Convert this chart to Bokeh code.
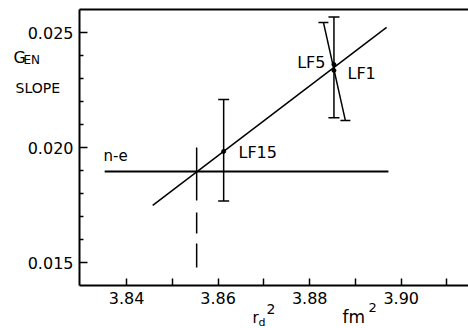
from bokeh.plotting import figure
from bokeh.models import Range1d, FixedTicker, PrintfTickFormatter, Label, LinearAxis
from bokeh.embed import file_html
from bokeh.resources import INLINE

# ---- data ----
fit_x = [3.8457, 3.8968]
fit_y = [0.01748, 0.02522]
ne_x = [3.8352, 3.8972]
ne_y = [0.01896, 0.01896]
cross_x = [3.8553, 3.8553]
cross_y = [0.0200, 0.01478]
pt_names = ["LF15", "LF1", "LF5"]
pt_x = [3.8612, 3.8853, 3.8853]
pt_y = [0.01983, 0.02335, 0.02361]
vbar_x = [3.8612, 3.8853]
vbar_lo = [0.01767, 0.02129]
vbar_hi = [0.02209, 0.02567]
slant_x = [3.8830, 3.8878]
slant_y = [0.02544, 0.02117]
xticks_major = [3.84, 3.86, 3.88, 3.90]
xticks_minor = [3.85, 3.87, 3.89, 3.91]
yticks_major = [0.015, 0.020, 0.025]
yticks_minor = [0.016, 0.017, 0.018, 0.019, 0.021, 0.022, 0.023, 0.024]

# axis box extents
X0, X1 = 3.8297, 3.9147
Y0, Y1 = 0.014, 0.026
FONT = "DejaVu Sans"

W, H = 468, 328
LEFT_PX, TOP_PX = 79, 9          # where the axis box corners sit on the canvas
SX = 389.0 / (X1 - X0)           # px per x unit
SY = 276.0 / (Y1 - Y0)           # px per y unit

def dx(px):
    return X0 + (px - LEFT_PX) / SX

def dy(py):
    return Y1 - (py - TOP_PX) / SY

p = figure(width=W, height=H, output_backend="svg", toolbar_location=None,
           x_range=Range1d(dx(0), dx(W)), y_range=Range1d(dy(H), dy(0)),
           min_border_left=0, min_border_right=0, min_border_top=0, min_border_bottom=0,
           x_axis_location=None, y_axis_location=None)
p.outline_line_color = None
p.grid.visible = False
p.background_fill_color = "white"
p.border_fill_color = "white"

def style_axis(ax):
    ax.axis_line_width = 2
    ax.axis_line_color = "black"
    ax.major_tick_out = 0
    ax.minor_tick_out = 0
    ax.major_tick_line_width = 1.5
    ax.minor_tick_line_width = 1.5
    ax.major_tick_line_color = "black"
    ax.minor_tick_line_color = "black"
    ax.major_label_text_font = FONT
    ax.major_label_text_font_size = "16px"
    ax.major_label_text_color = "black"
    ax.major_label_standoff = 6

xax = LinearAxis(ticker=FixedTicker(ticks=xticks_major, minor_ticks=xticks_minor),
                 formatter=PrintfTickFormatter(format="%.2f"),
                 fixed_location=Y0, bounds=(X0, X1))
style_axis(xax)
xax.major_tick_in = 7
xax.minor_tick_in = 7
p.add_layout(xax, "below")

yax = LinearAxis(ticker=FixedTicker(ticks=yticks_major, minor_ticks=yticks_minor),
                 formatter=PrintfTickFormatter(format="%.3f"),
                 fixed_location=X0, bounds=(Y0, Y1))
style_axis(yax)
yax.major_tick_in = 8
yax.minor_tick_in = 4
p.add_layout(yax, "left")

topax = LinearAxis(ticker=FixedTicker(ticks=[], minor_ticks=[]),
                   fixed_location=Y1, bounds=(X0, X1))
style_axis(topax)
topax.major_label_text_font_size = "0px"
p.add_layout(topax, "above")

# lines
p.line(fit_x, fit_y, line_color="black", line_width=1.5)
p.line(ne_x, ne_y, line_color="black", line_width=2)
p.line(cross_x, cross_y, line_color="black", line_width=1.5, line_dash="53 12 21 10 24")

# error bars
p.segment(x0=vbar_x, y0=vbar_lo, x1=vbar_x, y1=vbar_hi, line_color="black", line_width=1.5)
p.dash(x=vbar_x + vbar_x, y=vbar_lo + vbar_hi, size=11, line_color="black", line_width=1.5)
p.line(slant_x, slant_y, line_color="black", line_width=1.5)
p.dash(x=slant_x, y=slant_y, size=10, line_color="black", line_width=1.5)

# points
p.scatter(pt_x, pt_y, size=4, color="black")

def lab(text, px, base_py, size, align="left"):
    # base_py: wanted baseline in canvas px; small correction for rendered offset
    y = dy(base_py - 0.3 * size)
    p.add_layout(Label(x=dx(px), y=y, text=text, text_font=FONT,
                       text_font_size=f"{size}px", text_color="black",
                       text_align=align, text_baseline="alphabetic"))

lab(pt_names[0], 238, 157, 16)
lab(pt_names[1], 347, 78, 16)
lab(pt_names[2], 325, 67, 16, align="right")
lab("n-e", 103, 160, 15)
lab("G", 13, 62, 16)
lab("EN", 23, 63, 12)
lab("SLOPE", 15, 92, 14)
lab("r", 252, 322, 15)
lab("d", 258, 325, 11)
lab("2", 266, 313, 14)
lab("fm", 342, 322, 17)
lab("2", 368, 311, 13)

open("out.html", "w").write(file_html(p, INLINE))
